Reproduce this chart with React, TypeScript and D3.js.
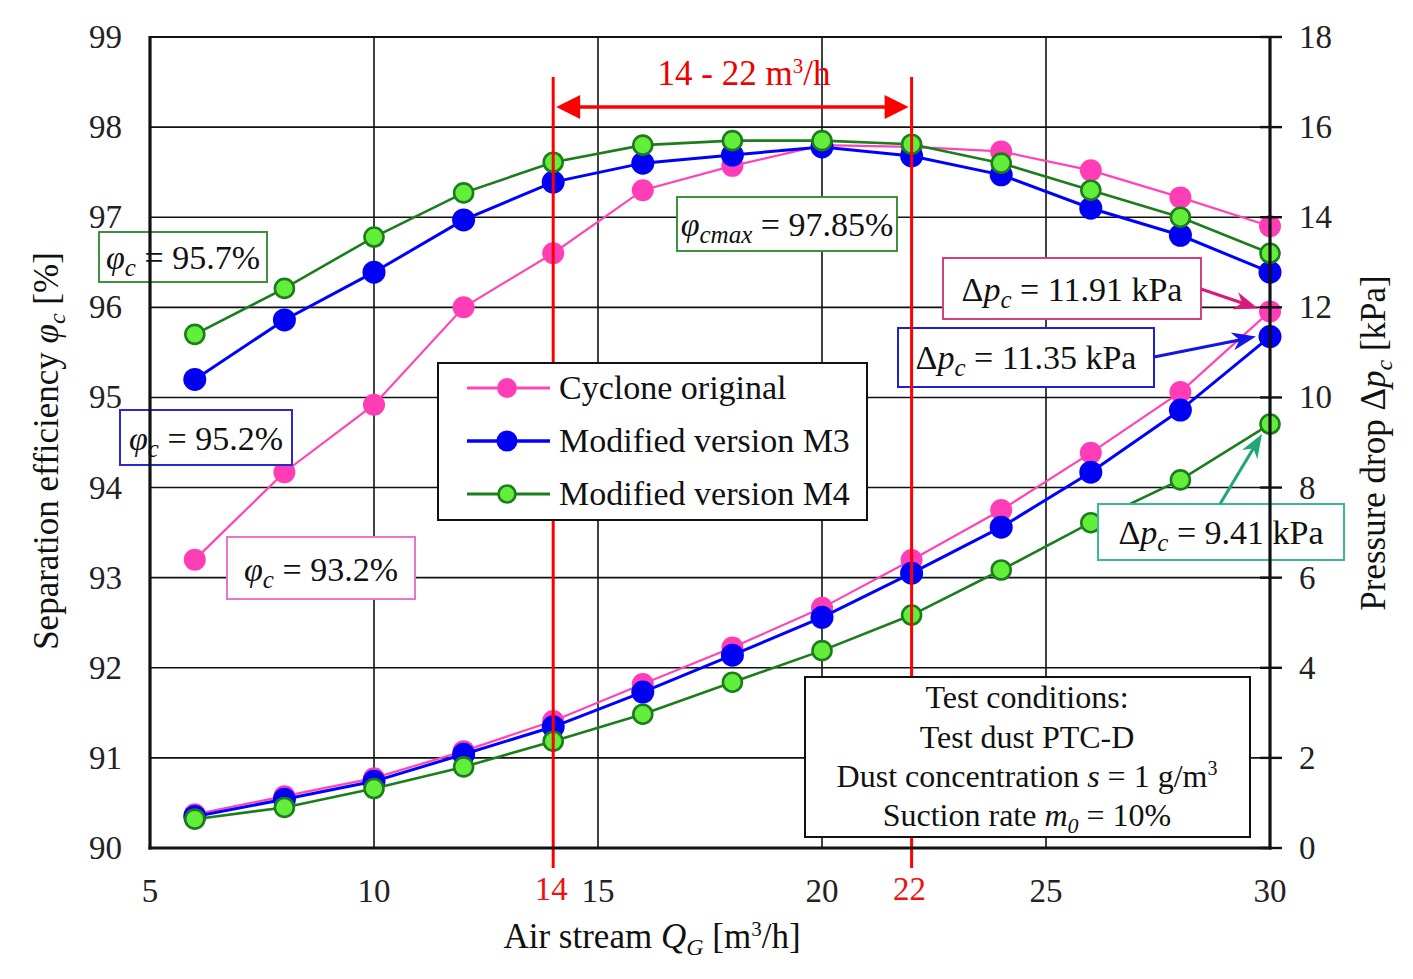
import React from 'react';
import * as d3 from 'd3';

// Air stream Q_G [m3/h] at which both quantities were measured
const flow = [6, 8, 10, 12, 14, 16, 18, 20, 22, 24, 26, 28, 30];

// Separation efficiency phi_c [%]
const effOriginal = [93.2, 94.17, 94.92, 96.0, 96.6, 97.3, 97.57, 97.8, 97.78, 97.73, 97.52, 97.22, 96.9];
const effM3 = [95.2, 95.86, 96.39, 96.97, 97.39, 97.6, 97.69, 97.78, 97.68, 97.47, 97.1, 96.8, 96.39];
const effM4 = [95.7, 96.21, 96.78, 97.27, 97.61, 97.8, 97.85, 97.85, 97.81, 97.6, 97.3, 97.0, 96.6];

// Pressure drop dp_c [kPa]
const dpOriginal = [0.75, 1.15, 1.55, 2.15, 2.82, 3.64, 4.45, 5.33, 6.39, 7.5, 8.77, 10.12, 11.91];
const dpM3 = [0.7, 1.08, 1.48, 2.08, 2.69, 3.46, 4.28, 5.12, 6.1, 7.12, 8.34, 9.72, 11.35];
const dpM4 = [0.64, 0.9, 1.32, 1.8, 2.37, 2.97, 3.68, 4.38, 5.17, 6.17, 7.22, 8.17, 9.41];

const xTicks = [5, 10, 15, 20, 25, 30];
const effTicks = [90, 91, 92, 93, 94, 95, 96, 97, 98, 99];
const dpTicks = [0, 2, 4, 6, 8, 10, 12, 14, 16, 18];
const optimalRange = [14, 22];

const FONT = 'Liberation Serif, Tinos, Times, DejaVu Serif, serif';

type Series = {
  name: string;
  eff: number[];
  dp: number[];
  line: string;
  lineWidth: number;
  fill: string;
  stroke: string;
  r: number;
};

const series: Series[] = [
  { name: 'Cyclone original', eff: effOriginal, dp: dpOriginal, line: '#ff45b5', lineWidth: 2.2, fill: '#ff3db6', stroke: 'none', r: 11 },
  { name: 'Modified version M3', eff: effM3, dp: dpM3, line: '#0000ff', lineWidth: 3, fill: '#0000f5', stroke: 'none', r: 11.5 },
  { name: 'Modified version M4', eff: effM4, dp: dpM4, line: '#1c7d1c', lineWidth: 2.6, fill: '#62ee3a', stroke: '#1c7d1c', r: 9.5 },
];

// boxed label with white fill, text centred in the box
function LabelBox(props: { x0: number; y0: number; x1: number; y1: number; color: string; baseline: number; children: React.ReactNode }) {
  const { x0, y0, x1, y1, color, baseline, children } = props;
  return (
    <g>
      <rect x={x0} y={y0} width={x1 - x0} height={y1 - y0} fill="#fff" stroke={color} strokeWidth={2} />
      <text x={(x0 + x1) / 2} y={baseline} textAnchor="middle" fontSize={34} fill="#111">
        {children}
      </text>
    </g>
  );
}

function Phi({ sub }: { sub: string }) {
  return (
    <>
      <tspan fontStyle="italic">φ</tspan>
      <tspan fontStyle="italic" fontSize={25} dy={7}>{sub}</tspan>
      <tspan dy={-7}> = </tspan>
    </>
  );
}

function Dp() {
  return (
    <>
      <tspan>Δ</tspan>
      <tspan fontStyle="italic">p</tspan>
      <tspan fontStyle="italic" fontSize={25} dy={7}>c</tspan>
      <tspan dy={-7}> = </tspan>
    </>
  );
}

// arrow with a notched head ending at (x2, y2)
function Arrow(props: { x1: number; y1: number; x2: number; y2: number; color: string; len?: number; half?: number }) {
  const { x1, y1, x2, y2, color } = props;
  const len = props.len ?? 24;
  const half = props.half ?? 9;
  const a = (Math.atan2(y2 - y1, x2 - x1) * 180) / Math.PI;
  const dist = Math.hypot(x2 - x1, y2 - y1);
  return (
    <g transform={`translate(${x1},${y1}) rotate(${a})`}>
      <line x1={0} y1={0} x2={dist - len * 0.6} y2={0} stroke={color} strokeWidth={3} />
      <path d={`M${dist},0 L${dist - len},${-half} L${dist - len * 0.7},0 L${dist - len},${half} Z`} fill={color} />
    </g>
  );
}

export default function App() {
  const x = d3.scaleLinear().domain([5, 30]).range([150, 1270]);
  const yEff = d3.scaleLinear().domain([90, 99]).range([848, 37]);
  const yDp = d3.scaleLinear().domain([0, 18]).range([848, 37]);

  const [left, right] = x.range();
  const [bottom, top] = yEff.range();

  const effLine = d3.line<number>().x((_, i) => x(flow[i])).y((d) => yEff(d));
  const dpLine = d3.line<number>().x((_, i) => x(flow[i])).y((d) => yDp(d));

  const last = flow.length - 1;
  const maxEff = d3.max(effM4) as number;

  const [r0, r1] = optimalRange.map((v) => x(v));
  const arrowY = 107;

  return (
    <div style={{ position: 'absolute', left: 0, top: 0 }}>
      <svg width={1413} height={979} style={{ display: 'block', background: '#fff', fontFamily: FONT }}>
        {/* grid */}
        {effTicks.slice(1, -1).map((t) => (
          <line key={'h' + t} x1={left} x2={right} y1={yEff(t)} y2={yEff(t)} stroke="#111" strokeWidth={1.6} />
        ))}
        {xTicks.slice(1, -1).map((t) => (
          <line key={'v' + t} x1={x(t)} x2={x(t)} y1={top} y2={bottom} stroke="#111" strokeWidth={1.6} />
        ))}

        {/* series: efficiency (left axis) and pressure drop (right axis) */}
        {series.map((s) => (
          <g key={s.name}>
            <path d={effLine(s.eff) as string} fill="none" stroke={s.line} strokeWidth={s.lineWidth} />
            <path d={dpLine(s.dp) as string} fill="none" stroke={s.line} strokeWidth={s.lineWidth} />
            {s.eff.map((v, i) => (
              <circle key={'e' + i} cx={x(flow[i])} cy={yEff(v)} r={s.r} fill={s.fill} stroke={s.stroke} strokeWidth={2.6} />
            ))}
            {s.dp.map((v, i) => (
              <circle key={'p' + i} cx={x(flow[i])} cy={yDp(v)} r={s.r} fill={s.fill} stroke={s.stroke} strokeWidth={2.6} />
            ))}
          </g>
        ))}

        {/* value labels */}
        <LabelBox x0={99} y0={232} x1={267} y1={282} color="#3f8f3f" baseline={269}>
          <Phi sub="c" />
          {`${effM4[0]}%`}
        </LabelBox>
        <LabelBox x0={120} y0={410} x1={292} y1={465} color="#2b2bcc" baseline={450}>
          <Phi sub="c" />
          {`${effM3[0]}%`}
        </LabelBox>
        <LabelBox x0={227} y0={537} x1={415} y1={599} color="#e678cc" baseline={581}>
          <Phi sub="c" />
          {`${effOriginal[0]}%`}
        </LabelBox>
        <LabelBox x0={677} y0={197} x1={897} y1={251} color="#3f8f3f" baseline={236}>
          <Phi sub="cmax" />
          {`${maxEff.toFixed(2)}%`}
        </LabelBox>
        <LabelBox x0={943} y0={258} x1={1201} y1={319} color="#d4407f" baseline={301}>
          <Dp />
          {`${dpOriginal[last].toFixed(2)} kPa`}
        </LabelBox>
        <LabelBox x0={898} y0={328} x1={1154} y1={387} color="#2020d0" baseline={369}>
          <Dp />
          {`${dpM3[last].toFixed(2)} kPa`}
        </LabelBox>
        <LabelBox x0={1098} y0={504} x1={1344} y1={560} color="#3cb894" baseline={544}>
          <Dp />
          {`${dpM4[last].toFixed(2)} kPa`}
        </LabelBox>

        {/* optimal operating range */}
        {[r0, r1].map((px, i) => (
          <line key={'r' + i} x1={px} x2={px} y1={77} y2={868} stroke="#ff0000" strokeWidth={3} />
        ))}
        <line x1={r0 + 20} x2={r1 - 20} y1={arrowY} y2={arrowY} stroke="#ff0000" strokeWidth={3.5} />
        <path d={`M${r0 + 3},${arrowY} L${r0 + 27},${arrowY - 12} L${r0 + 27},${arrowY + 12} Z`} fill="#ff0000" />
        <path d={`M${r1 - 3},${arrowY} L${r1 - 27},${arrowY - 12} L${r1 - 27},${arrowY + 12} Z`} fill="#ff0000" />
        <text x={744} y={85} textAnchor="middle" fontSize={35} fill="#ee0000">
          {`${optimalRange[0]} - ${optimalRange[1]} m`}
          <tspan fontSize={21} dy={-12}>3</tspan>
          <tspan dy={12}>/h</tspan>
        </text>

        {/* legend */}
        <g>
          <rect x={438} y={363} width={429} height={157} fill="#fff" stroke="#111" strokeWidth={2} />
          {series.map((s, i) => {
            const cy = 388 + i * 53;
            return (
              <g key={'lg' + s.name}>
                <line x1={467} x2={550} y1={cy} y2={cy} stroke={s.line} strokeWidth={s.lineWidth + 0.6} />
                <circle cx={507} cy={cy} r={s.r - 1} fill={s.fill} stroke={s.stroke} strokeWidth={2.6} />
                <text x={559} y={cy + 11} fontSize={34} fill="#111">{s.name}</text>
              </g>
            );
          })}
        </g>

        {/* test conditions */}
        <g fontSize={32} fill="#111" textAnchor="middle">
          <rect x={805} y={677} width={445} height={160} fill="#fff" stroke="#111" strokeWidth={2} />
          <text x={1027} y={708}>Test conditions:</text>
          <text x={1027} y={748}>Test dust PTC-D</text>
          <text x={1027} y={787}>
            Dust concentration <tspan fontStyle="italic">s</tspan> = 1 g/m
            <tspan fontSize={20} dy={-12}>3</tspan>
          </text>
          <text x={1027} y={826}>
            Suction rate <tspan fontStyle="italic">m</tspan>
            <tspan fontStyle="italic" fontSize={22} dy={7}>0</tspan>
            <tspan dy={-7}> = 10%</tspan>
          </text>
        </g>

        {/* pointers to the end values */}
        <Arrow x1={1201} y1={289} x2={x(flow[last]) - 12} y2={yDp(dpOriginal[last]) - 3} color="#d81b78" />
        <Arrow x1={1154} y1={357} x2={x(flow[last]) - 14} y2={yDp(dpM3[last])} color="#1414e6" />
        <Arrow x1={1220} y1={504} x2={x(flow[last]) - 8} y2={yDp(dpM4[last]) + 10} color="#1fa77a" />

        {/* frame */}
        <line x1={left} x2={right} y1={top} y2={top} stroke="#111" strokeWidth={2.2} />
        <line x1={left} x2={left} y1={top - 1} y2={bottom + 1.5} stroke="#111" strokeWidth={3.2} />
        <line x1={right} x2={right} y1={top - 1} y2={bottom + 1.5} stroke="#111" strokeWidth={3.2} />
        <line x1={left - 1.5} x2={right + 1.5} y1={bottom} y2={bottom} stroke="#111" strokeWidth={3.2} />
        {dpTicks.map((t) => (
          <line key={'rt' + t} x1={right - 10} x2={right + 12} y1={yDp(t)} y2={yDp(t)} stroke="#111" strokeWidth={2.4} />
        ))}

        {/* tick labels */}
        <g fontSize={33} fill="#222">
          {effTicks.map((t) => (
            <text key={'el' + t} x={122} y={yEff(t) + 11} textAnchor="end">{t}</text>
          ))}
          {dpTicks.map((t) => (
            <text key={'dl' + t} x={1299} y={yDp(t) + 11}>{t}</text>
          ))}
          {xTicks.map((t) => (
            <text key={'xl' + t} x={x(t)} y={902} textAnchor="middle">{t}</text>
          ))}
          {optimalRange.map((t) => (
            <text key={'rl' + t} x={x(t) - 2} y={900} textAnchor="middle" fill="#ee1111">{t}</text>
          ))}
        </g>

        {/* axis titles */}
        <text x={652} y={948} textAnchor="middle" fontSize={35} fill="#111">
          Air stream <tspan fontStyle="italic">Q</tspan>
          <tspan fontStyle="italic" fontSize={24} dy={7}>G</tspan>
          <tspan dy={-7}> [m</tspan>
          <tspan fontSize={21} dy={-12}>3</tspan>
          <tspan dy={12}>/h]</tspan>
        </text>
        <text transform="translate(58,451) rotate(-90)" textAnchor="middle" fontSize={35} fill="#111">
          Separation efficiency <tspan fontStyle="italic">φ</tspan>
          <tspan fontStyle="italic" fontSize={24} dy={7}>c</tspan>
          <tspan dy={-7}> [%]</tspan>
        </text>
        <text transform="translate(1385,443) rotate(-90)" textAnchor="middle" fontSize={35} fill="#111">
          Pressure drop Δ<tspan fontStyle="italic">p</tspan>
          <tspan fontStyle="italic" fontSize={24} dy={7}>c</tspan>
          <tspan dy={-7}> [kPa]</tspan>
        </text>
      </svg>
    </div>
  );
}
